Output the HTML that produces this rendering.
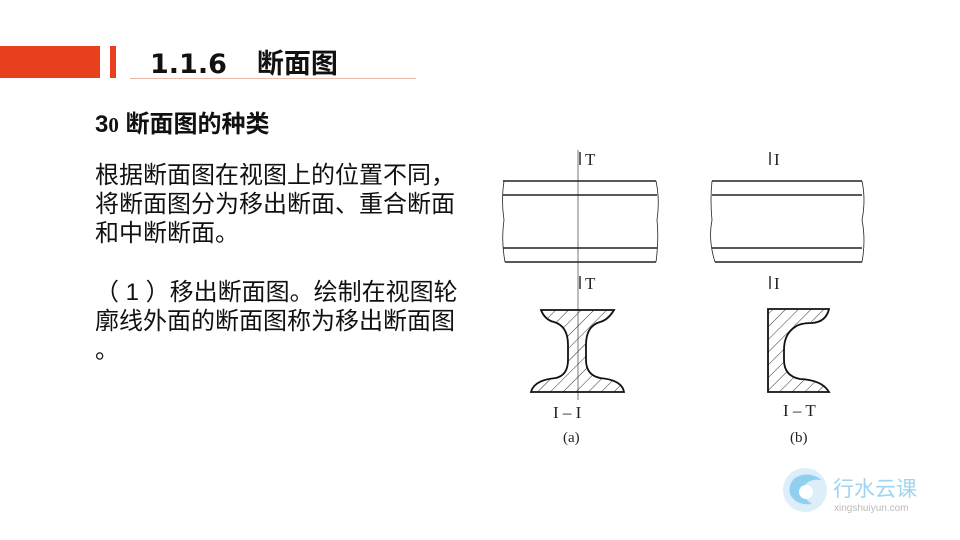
<!DOCTYPE html>
<html><head><meta charset="utf-8"><style>
body{margin:0;width:960px;height:540px;background:#fff;overflow:hidden;position:relative;font-family:"Liberation Sans","Noto Sans CJK SC",sans-serif;}
.t{position:absolute;color:#111;white-space:nowrap;}
</style></head><body>
<div style="position:absolute;left:0;top:46px;width:100px;height:32px;background:#e8401c"></div>
<div style="position:absolute;left:110px;top:46px;width:6px;height:32px;background:#e8401c"></div>
<div style="position:absolute;left:130px;top:78px;width:286px;height:1px;background:#f0b8a8"></div>
<div class="t" style="left:150px;top:42px;font-size:27px;font-weight:bold;font-family:'DejaVu Sans','Noto Sans CJK SC',sans-serif;">1.1.6<span style="display:inline-block;width:30px"></span><span style="font-family:'Noto Sans CJK SC',sans-serif;font-size:27px">断面图</span></div>
<div class="t" style="left:95px;top:104px;font-size:24px;font-weight:bold;">3<span style="font-family:'Liberation Serif',serif;font-size:21px">0</span> 断面图的种类</div>
<div class="t" style="left:95px;top:161px;font-size:24px;line-height:29px;">根据断面图在视图上的位置不同，<br>将断面图分为移出断面、重合断面<br>和中断断面。</div>
<div class="t" style="left:95px;top:278px;font-size:24px;line-height:29px;">（ 1 ）移出断面图。绘制在视图轮<br>廓线外面的断面图称为移出断面图<br>。</div>
<svg width="960" height="540" style="position:absolute;left:0;top:0" font-family="Liberation Serif,serif">
<defs><pattern id="h" width="9" height="9" patternUnits="userSpaceOnUse" patternTransform="rotate(45)"><line x1="0" y1="0" x2="0" y2="9" stroke="#333" stroke-width="1"/></pattern></defs>
<g stroke="#222" stroke-width="1.4" fill="none">
<path d="M503 181H656 M503 195H657 M503 248H657 M505 262H656"/>
<path d="M504 181 Q501 200 504 220 Q501 240 505 262" stroke-width="0.8"/>
<path d="M656 181 Q660 200 657 220 Q659 240 656 262" stroke-width="0.8"/>
<path d="M712 181H862 M712 195H862 M712 248H862 M715 262H862"/>
<path d="M712 181 Q710 200 712 220 Q708 240 715 262" stroke-width="0.8"/>
<path d="M862 181 Q866 200 862 220 Q866 240 862 262" stroke-width="0.8"/>
<path d="M578 150V300 M578 300V400" stroke-width="0.6"/>
<path d="M580 152V165 M580 276V289 M770 152V165 M770 276V289" stroke-width="1.4"/>
</g>
<path d="M541 310H614 Q608 320 600 322 Q586 326 586 345 V360 Q586 375 600 378 Q622 380 624 392 H531 Q534 380 556 378 Q568 375 568 360 V345 Q568 326 554 322 Q545 320 541 310Z" fill="url(#h)" stroke="#111" stroke-width="1.8"/>
<path d="M768 309H829 Q826 322 812 323 Q800 323 795 327 Q784 334 784 350 V360 Q784 376 800 379 Q822 380 829 392 H768Z" fill="url(#h)" stroke="#111" stroke-width="1.8"/>
<g font-size="17" fill="#222">
<text x="585" y="165">T</text><text x="585" y="289">T</text>
<text x="774" y="165">I</text><text x="774" y="289">I</text>
<text x="553" y="418">I – I</text><text x="783" y="416">I – T</text>
<text x="563" y="442" font-size="15">(a)</text><text x="790" y="442" font-size="15">(b)</text>
</g>
<g opacity="0.75">
<circle cx="805" cy="490" r="22" fill="#cfe9f7"/>
<path d="M795 478 Q808 470 822 480 Q810 478 804 486 Q800 496 812 504 Q796 506 790 494 Q788 484 795 478Z" fill="#6cc0ea"/>
<circle cx="806" cy="492" r="7" fill="#fff"/>
</g>
<text x="833" y="496" font-size="21" fill="#9fd3ef" font-family="Liberation Sans,Noto Sans CJK SC,sans-serif">行水云课</text>
<text x="834" y="511" font-size="10" fill="#bbb" font-family="Liberation Sans,sans-serif">xingshuiyun.com</text>
</svg>
</body></html>
